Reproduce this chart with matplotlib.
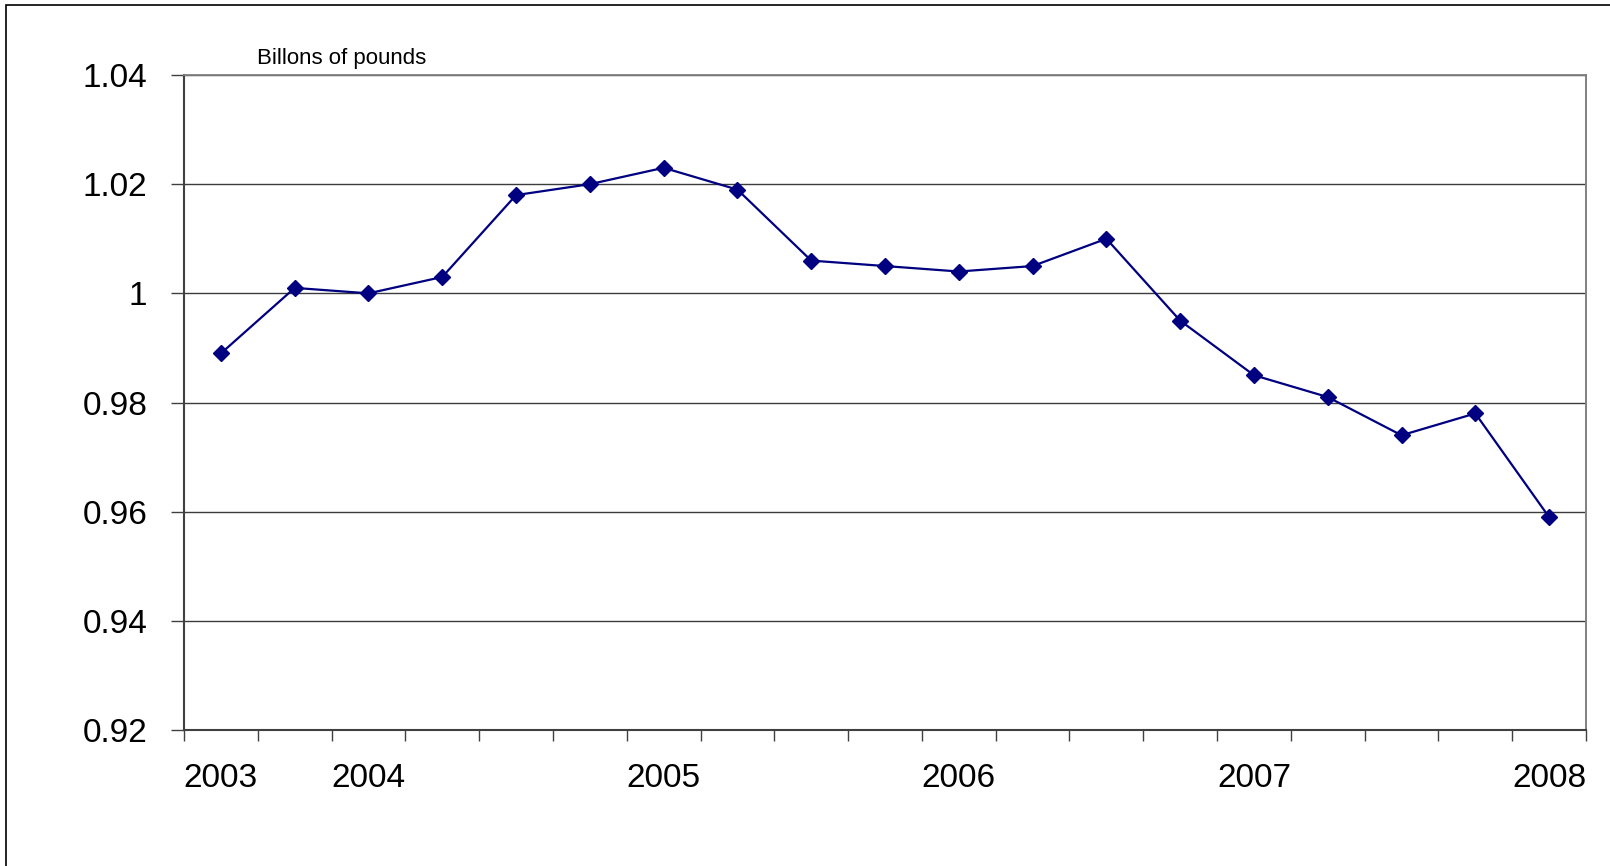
import matplotlib.pyplot as plt
from matplotlib.patches import Rectangle

# quarterly values, billions of pounds
values = [0.989, 1.001, 1.000, 1.003, 1.018, 1.020, 1.023, 1.019, 1.006, 1.005,
          1.004, 1.005, 1.010, 0.995, 0.985, 0.981, 0.974, 0.978, 0.959]
year_labels = ['2003', '', '2004', '', '', '', '2005', '', '', '',
               '2006', '', '', '', '2007', '', '', '', '2008']
y_ticks = [0.92, 0.94, 0.96, 0.98, 1.00, 1.02, 1.04]
y_tick_labels = ['0.92', '0.94', '0.96', '0.98', '1', '1.02', '1.04']
unit_label = 'Billons of pounds'

plt.rcParams['font.family'] = ['Liberation Sans', 'DejaVu Sans']

fig = plt.figure(figsize=(16.1, 8.66), dpi=100)
ax = fig.add_axes([0.1143, 0.1570, 0.8708, 0.7564])

x = list(range(len(values)))
ax.plot(x, values, color='#000080', linewidth=1.6, marker='D',
        markersize=8, markerfacecolor='#000080', markeredgecolor='#000080')

ax.set_xlim(-0.5, len(values) - 0.5)
ax.set_ylim(0.92, 1.04)

# y axis
ax.set_yticks(y_ticks)
ax.set_yticklabels(y_tick_labels)
ax.tick_params(axis='y', direction='out', length=9.5, width=1.0, color='#404040',
               pad=17, labelsize=24)
ax.grid(True, axis='y', color='#3c3c3c', linewidth=1.0)

# x axis: tick marks between categories, year labels at category centres
ax.set_xticks([i - 0.5 for i in range(len(values) + 1)])
ax.set_xticklabels([])
ax.set_xticks(x, year_labels, minor=True)
ax.tick_params(axis='x', which='major', direction='out', length=8, width=1.0,
               color='#404040')
ax.tick_params(axis='x', which='minor', length=0, pad=24, labelsize=24)

for side in ['left', 'bottom']:
    ax.spines[side].set_color('#404040')
    ax.spines[side].set_linewidth(1.5)
ax.spines['right'].set_color('#808080')
ax.spines['right'].set_linewidth(1.4)
ax.spines['top'].set_color('#808080')
ax.spines['top'].set_linewidth(1.3)

fig.text(257 / 1610, 1 - 64 / 866, unit_label, fontsize=16, va='baseline', ha='left')

# outer chart frame (cut off at right and bottom)
fig.patches.append(Rectangle((6 / 1610, -0.1), 1.2, 1.1 - 5 / 866, fill=False,
                             edgecolor='black', linewidth=1.2,
                             transform=fig.transFigure, figure=fig))

fig.savefig('out.png', dpi=100)
